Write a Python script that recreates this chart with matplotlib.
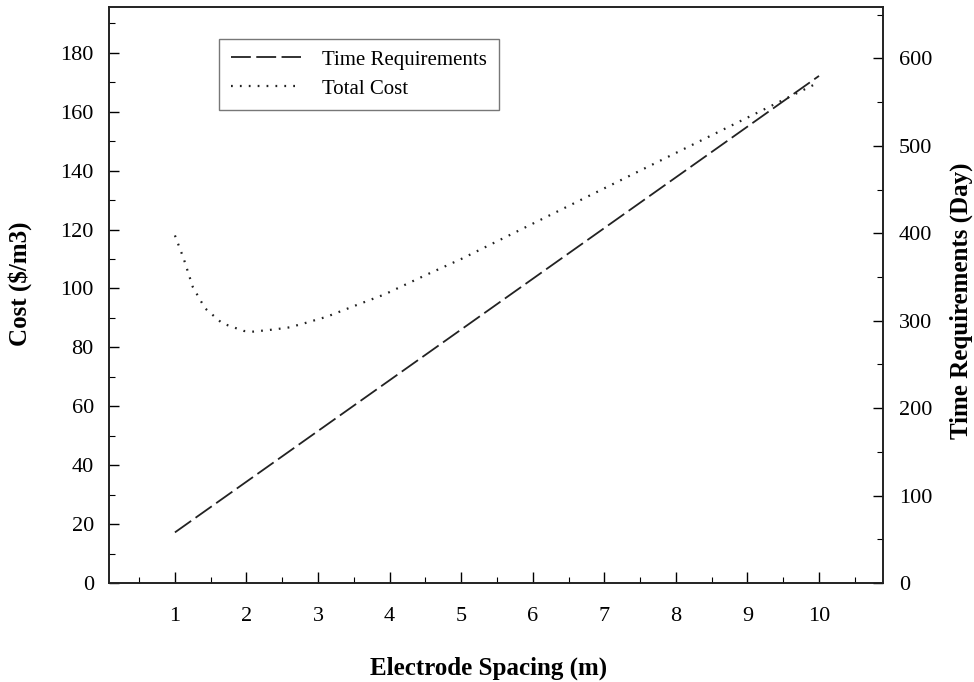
"""Cost and time requirements vs electrode spacing (dual y-axis)."""
import matplotlib
matplotlib.use("Agg")
import matplotlib.pyplot as plt
import matplotlib.ticker as ticker

plt.rcParams["font.family"] = ["Liberation Serif", "DejaVu Serif"]

# Electrode spacing (m)
SPACING_TIME = [1, 2, 3, 4, 5, 6, 7, 8, 9, 10]
TIME_DAYS = [58, 116, 174, 232, 290, 348, 406, 464, 522, 580]

SPACING_COST = [1.0, 1.12, 1.25, 1.42, 1.66, 1.96, 2.07, 2.39, 2.6, 2.81,
                3.12, 3.52, 3.93, 4.5, 5, 6, 7, 8, 9, 10]
COST = [118, 110.3, 100.5, 93.3, 88.2, 85.6, 85.3, 86.1, 86.8, 88.2,
        90.4, 94.2, 98.0, 104.5, 110.0, 122.0, 134.0, 146.0, 158.0, 170.0]

X_TICKS = list(range(1, 11))

fig = plt.figure(figsize=(9.74, 6.82), dpi=100)
ax = fig.add_axes([0.112, 0.145, 0.795, 0.845])
ax2 = ax.twinx()

line_cost, = ax.plot(SPACING_COST, COST, color="#222222", lw=1.6,
                     linestyle=(0, (0.8, 3.2)), label="Total Cost")
line_time, = ax2.plot(SPACING_TIME, TIME_DAYS, color="#222222", lw=1.3,
                      linestyle=(0, (11, 3)), label="Time Requirements")

ax.set_xlim(0.08, 10.9)
ax.set_ylim(0, 195.6)
ax2.set_ylim(0, 659)

ax.set_xticks(X_TICKS)
ax.xaxis.set_minor_locator(ticker.MultipleLocator(0.5))
ax.yaxis.set_major_locator(ticker.MultipleLocator(20))
ax.yaxis.set_minor_locator(ticker.MultipleLocator(10))
ax2.yaxis.set_major_locator(ticker.MultipleLocator(100))
ax2.yaxis.set_minor_locator(ticker.MultipleLocator(50))

ax.tick_params(axis="x", which="major", direction="in", length=8,
               width=1, pad=17, labelsize=16, top=False)
ax.tick_params(axis="x", which="minor", direction="in", length=4,
               width=0.8, top=False)
ax.tick_params(axis="y", which="major", direction="in", length=7,
               width=1, pad=11, labelsize=16)
ax.tick_params(axis="y", which="minor", direction="in", length=4,
               width=0.8)
ax2.tick_params(axis="y", which="major", direction="in", length=7,
                width=1, pad=11, labelsize=16)
ax2.tick_params(axis="y", which="minor", direction="in", length=4,
                width=0.8)

for a in (ax, ax2):
    for sp in a.spines.values():
        sp.set_linewidth(1.2)
        sp.set_color("#222222")

ax.set_xlabel("Electrode Spacing (m)", fontsize=18, fontweight="bold")
ax.xaxis.set_label_coords(0.49, -0.127)
ax.set_ylabel("Cost ($/m3)", fontsize=18, fontweight="bold")
ax.yaxis.set_label_coords(-0.1, 0.52)
ax2.set_ylabel("Time Requirements (Day)", fontsize=18, fontweight="bold",
               rotation=90)
ax2.yaxis.set_label_coords(1.085, 0.49)

leg = ax.legend([line_time, line_cost], ["Time Requirements", "Total Cost"],
                loc="upper left", bbox_to_anchor=(0.142, 0.945),
                fontsize=15, frameon=True, fancybox=False,
                handlelength=3.4, handletextpad=1.0, borderpad=0.55,
                labelspacing=0.45, borderaxespad=0)
leg.get_frame().set_edgecolor("#555555")
leg.get_frame().set_linewidth(1.0)

fig.savefig("out.png", dpi=100)
